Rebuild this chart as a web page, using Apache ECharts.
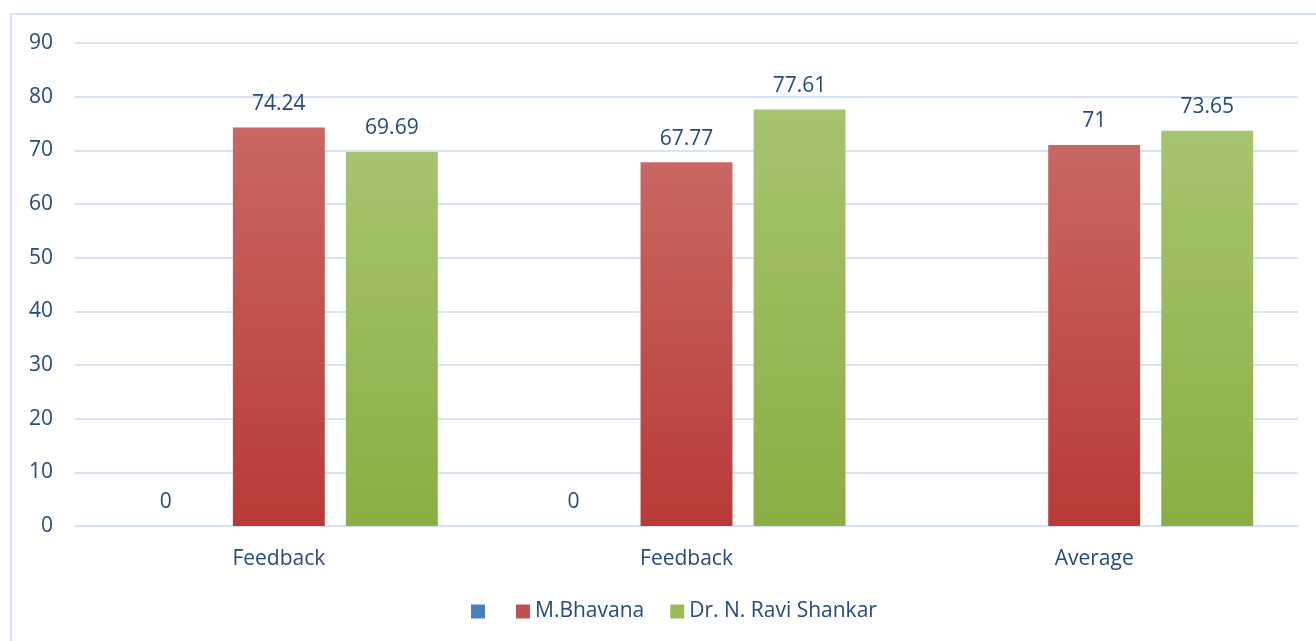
<!DOCTYPE html>
<html>
<head>
<meta charset="utf-8">
<script src="https://cdn.jsdelivr.net/npm/echarts@6/dist/echarts.min.js"></script>
<style>
html,body{margin:0;padding:0;background:#fff;}
#c{width:1316px;height:641px;}
</style>
</head>
<body>
<div id="c"></div>
<script>
const categories = ['Feedback', 'Feedback', 'Average'];
const seriesNames = ['\u200b', 'M.Bhavana', 'Dr. N. Ravi Shankar'];
const blankValues = [0, 0, null];
const bhavanaValues = [74.24, 67.77, 71];
const raviValues = [69.69, 77.61, 73.65];
const yTicks = [0, 10, 20, 30, 40, 50, 60, 70, 80, 90];

const FONT = 'Open Sans';
const TXT = '#264a7d';
const FS = 21;

function grad(top, bottom) {
  return new echarts.graphic.LinearGradient(0, 0, 0, 1, [
    {offset: 0, color: top}, {offset: 1, color: bottom}
  ]);
}
const colors = [
  grad('#5b8cc8', '#3f71b0'),
  grad('#c96762', '#b83a37'),
  grad('#a6c46f', '#8aae42')
];
const legendColors = ['#4a7ebf', '#c0504d', '#9bbb59'];

const label = {
  show: true, position: 'top', distance: 13,
  color: TXT, fontFamily: FONT, fontSize: FS,
  formatter: p => (p.value === null || p.value === undefined) ? '' : String(p.value)
};

const chart = echarts.init(document.getElementById('c'), null, {renderer: 'canvas'});
const data = [blankValues, bhavanaValues, raviValues];
chart.setOption({
  animation: false,
  backgroundColor: '#fff',
  graphic: [{
    type: 'rect', z: 100, silent: true,
    shape: {x: 11, y: 14, width: 1330, height: 660},
    style: {fill: 'none', stroke: '#d6e3f3', lineWidth: 2}
  }],
  grid: {left: 75, right: 18, top: 43, bottom: 115, containLabel: false},
  legend: {
    bottom: 14, left: 466,
    itemWidth: 14, itemHeight: 14, itemGap: 26,
    icon: 'rect',
    textStyle: {color: TXT, fontFamily: FONT, fontSize: FS},
    data: seriesNames.map((n, i) => ({name: n, itemStyle: {color: legendColors[i]}}))
  },
  xAxis: {
    type: 'category', data: categories,
    axisLine: {show: true, lineStyle: {color: '#d6e3f3', width: 2}},
    axisTick: {show: false},
    axisLabel: {color: TXT, fontFamily: FONT, fontSize: FS, margin: 23}
  },
  yAxis: {
    type: 'value', min: yTicks[0], max: yTicks[yTicks.length - 1], interval: 10,
    axisLine: {show: false}, axisTick: {show: false},
    splitLine: {lineStyle: {color: '#d6e3f3', width: 2}},
    axisLabel: {color: TXT, fontFamily: FONT, fontSize: FS, margin: 22}
  },
  series: seriesNames.map((n, i) => ({
    name: n, type: 'bar',
    data: data[i].map(v => v === null ? '-' : v),
    barGap: '23%', barCategoryGap: '22%',
    itemStyle: {color: colors[i]},
    label: label
  }))
});
</script>
</body>
</html>
